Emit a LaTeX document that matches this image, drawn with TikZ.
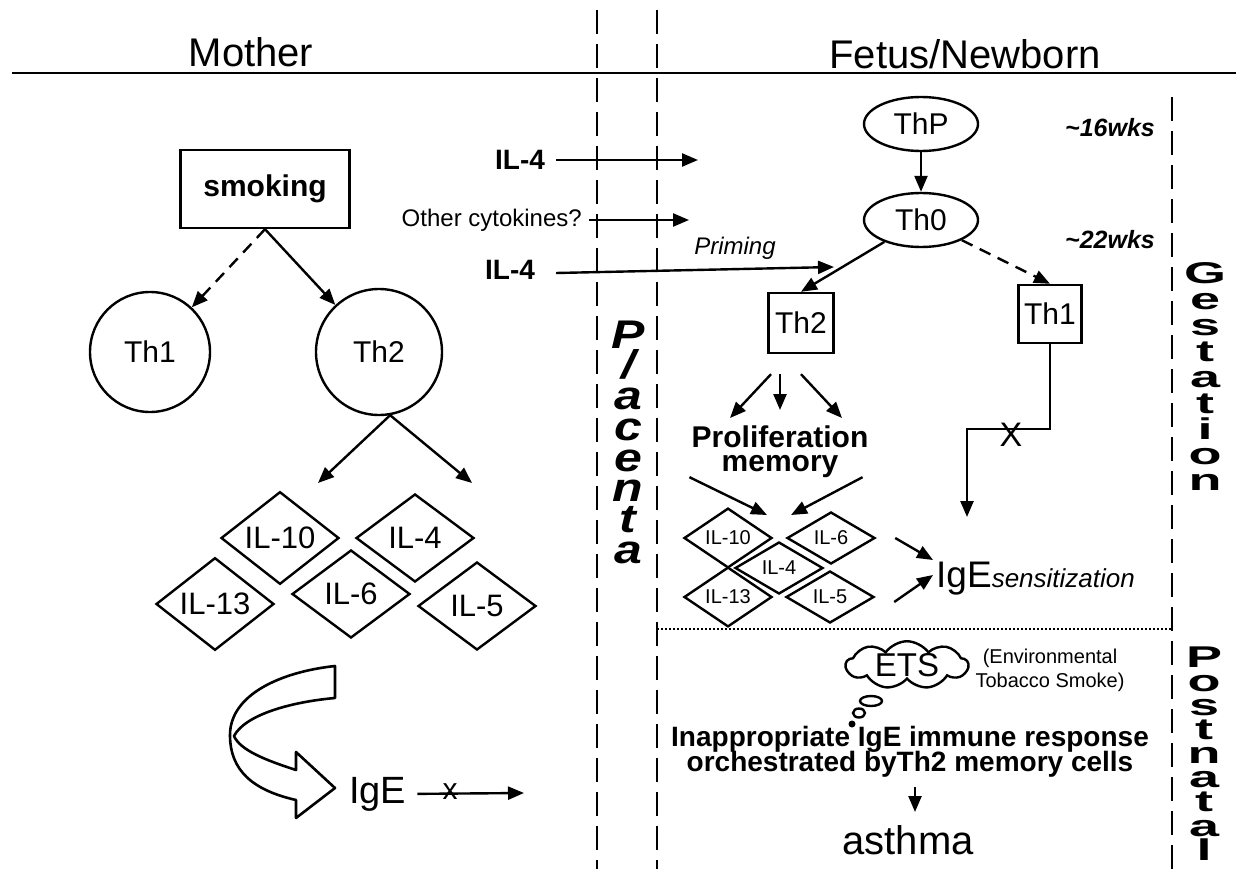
\documentclass[tikz,border=0pt]{standalone}
\usepackage{fontspec}
\setmainfont{Liberation Sans}
\usetikzlibrary{arrows.meta,shapes.geometric,shapes.symbols}
\newcommand\fsz[1]{\fontsize{#1}{#1}\selectfont}
\newcommand\wl[1]{\scalebox{1.8}[1]{#1}}
\newcommand\pl[1]{\scalebox{1.25}[1]{#1}}
\lineskiplimit=-100pt\relax
\begin{document}
\begin{tikzpicture}[x=1pt,y=-1pt,line width=2.4pt,
  arr/.style={-{Triangle[length=16pt,width=13pt]}},
  txt/.style={inner sep=0pt},
  circ/.style={circle,draw,inner sep=0pt,font=\fsz{30}},
  dia/.style={diamond,draw,inner sep=0pt,minimum width=118pt,minimum height=88pt,font=\fsz{31}},
  sdia/.style={diamond,draw,inner sep=0pt,minimum width=88pt,minimum height=52pt,font=\fsz{20}},
  ell/.style={ellipse,draw,inner sep=0pt,minimum width=114pt,minimum height=54pt,font=\fsz{30}},
  boxn/.style={rectangle,draw,inner sep=0pt,font=\fsz{30}},
  vdash/.style={dash pattern=on 24pt off 10pt},
  vstack/.style={anchor=north,inner sep=0pt,align=center}]
\useasboundingbox (0,0) rectangle (1236,869);

% frame lines
\draw (12,73) -- (1236,73);
\draw[vdash] (597,10) -- (597,869);
\draw[vdash] (657,10) -- (657,869);
\draw[vdash] (1172,97) -- (1172,869);
\draw[line width=2pt,dash pattern=on 2pt off 2pt] (657,629) -- (1172,629);

% titles
\node[txt,anchor=base] (mother) at (251,67) {\fsz{40}Mother};
\node[txt,anchor=base] (fetus) at (965,69) {\fsz{40}Fetus/Newborn};

% ---------- Mother side ----------
\node[boxn,minimum width=169pt,minimum height=78pt,font=\fsz{30}\bfseries] (smoking) at (265,189) {smoking};
\node[circ,minimum size=120pt] (th1L) at (150,352) {Th1};
\node[circ,minimum size=126pt] (th2L) at (379,352) {Th2};
\draw[arr,dash pattern=on 12pt off 8pt] (smoking.south) -- (th1L);
\draw[arr] (smoking.south) -- (th2L);
\coordinate (tl) at (318,483);
\coordinate (tr) at (472,483);
\draw[arr] (th2L.-80) -- (tl);
\draw[arr] (th2L.-80) -- (tr);

\node[dia] (d10) at (280,538) {IL-10};
\node[dia] (d4) at (415,538) {IL-4};
\node[dia] (d13) at (215,604) {IL-13};
\node[dia] (d6) at (351,594) {IL-6};
\node[dia] (d5) at (477,606) {IL-5};

% curved block arrow
\draw[line width=2.6pt,line join=round] (335,666) .. controls (280,672) and (230,695) .. (230,735)
  .. controls (230,770) and (252,790) .. (296,800) -- (296,818) -- (335,788) -- (296,752) -- (296,770)
  .. controls (265,760) and (240,750) .. (234,736) .. controls (245,715) and (290,702) .. (335,698) -- cycle;

\node[txt,anchor=base west] (igeL) at (348,803) {\fsz{38}IgE};
\coordinate (igeEnd) at (524,793);
\draw[arr] ([xshift=10pt]igeL.east) -- (igeEnd);
\node[txt] (xL) at (450,792) {\fsz{30}x};

% ---------- Placenta ----------
\node[vstack,font=\fontsize{40}{30.7}\selectfont\bfseries\itshape] (placenta) at (628,319.5)
  {\pl{P}\\\pl{/}\\\pl{a}\\\pl{c}\\\pl{e}\\\pl{n}\\\pl{t}\\\pl{a}};

% cytokines crossing
\node[txt,font=\fsz{28}\bfseries] (il4a) at (520,160) {IL-4};
\coordinate (c1) at (698,160);
\draw[arr] ([xshift=10pt]il4a.east) -- (c1);
\node[txt,anchor=east,font=\fsz{24}] (oth) at (583,220) {Other cytokines?};
\coordinate (c2) at (689,220);
\draw[arr] ([xshift=6pt]oth.east) -- (c2);
\node[txt,font=\fsz{28}\bfseries] (il4b) at (510,270) {IL-4};
\coordinate (c3) at (834,267);
\draw[arr] ([xshift=20pt,yshift=-3pt]il4b.east) -- (c3);
\node[txt,font=\fsz{24}\itshape] (priming) at (735,248) {Priming};

% ---------- Fetus side ----------
\node[ell] (thp) at (921,124) {ThP};
\node[ell] (th0) at (921,220) {Th0};
\draw[arr] (thp) -- (th0);
\node[txt,font=\fsz{25}\bfseries\itshape] (w16) at (1110,128) {\textasciitilde16wks};
\node[txt,font=\fsz{25}\bfseries\itshape] (w22) at (1110,240) {\textasciitilde22wks};

\node[boxn,minimum width=65pt,minimum height=60pt] (th2b) at (801,323) {Th2};
\node[boxn,minimum width=63pt,minimum height=58pt] (th1b) at (1050,314) {Th1};
\draw[arr] (th0) -- (th2b.north);
\draw[arr,dash pattern=on 12pt off 8pt] (th0) -- (th1b.north);

\coordinate (p1) at (730,418);
\coordinate (p2) at (780,410);
\coordinate (p3) at (842,418);
\draw[arr] ([shift={(-30,20)}]th2b.south) -- (p1);
\draw[arr] ([shift={(-21,20)}]th2b.south) -- (p2);
\draw[arr] ([shift={(0,20)}]th2b.south) -- (p3);

\node[txt,align=center,font=\fontsize{30}{24}\selectfont\bfseries] (prolif) at (780,452) {Proliferation\\memory};

\node[sdia] (s10) at (728,538) {IL-10};
\node[sdia] (s6) at (831,538) {IL-6};
\node[sdia] (s4) at (779,568) {IL-4};
\node[sdia] (s13) at (728,597) {IL-13};
\node[sdia] (s5) at (830,597) {IL-5};

\coordinate (q1) at (767,515);
\coordinate (q2) at (791,515);
\draw[arr] ([shift={(-1,-2)}]prolif.south west) -- (q1);
\draw[arr] ([shift={(-7,-2)}]prolif.south east) -- (q2);

\node[txt,anchor=base west] (igeR) at (935,587) {\fsz{37}IgE\fsz{26}\itshape sensitization};
\coordinate (r1) at (933,560);
\coordinate (r2) at (933,575);
\draw[arr] ([shift={(19,0)}]s6.east) -- (r1);
\draw[arr] ([shift={(19,5)}]s5.east) -- (r2);

\coordinate (t1) at (967,517);
\draw[arr] (th1b.south) -- ++(0,85) -| (t1);
\node[txt,font=\fsz{34}] (xR) at (1011,435) {X};

% postnatal
\node[cloud,draw,cloud puffs=9,cloud puff arc=110,aspect=2.8,inner sep=0pt,minimum width=122pt,minimum height=46pt,font=\fsz{33}] (ets) at (907,665) {ETS};
\node[ellipse,draw,inner sep=0pt,minimum width=22pt,minimum height=10pt] (b1) at (871,701) {};
\node[ellipse,draw,inner sep=0pt,minimum width=12pt,minimum height=9pt] (b2) at (859,713) {};
\node[circle,fill,inner sep=0pt,minimum size=7pt] (b3) at (852,724) {};
\node[txt,align=center,font=\fontsize{20}{24}\selectfont] (envt) at (1050,670) {(Environmental\\Tobacco Smoke)};

\node[txt,align=center,font=\fontsize{28}{25}\selectfont\bfseries] (inapp) at (910,752) {Inappropriate IgE immune response\\orchestrated byTh2 memory cells};
\coordinate (a1) at (915,787);
\coordinate (a2) at (915,812);
\draw[arr] (a1) -- (a2);
\node[txt,font=\fsz{40}] (asthma) at (908,840) {asthma};

% side labels
\node[vstack,font=\fontsize{30}{25.9}\selectfont\bfseries] (gest) at (1205,261.5)
  {\wl{G}\\\wl{e}\\\wl{s}\\\wl{t}\\\wl{a}\\\wl{t}\\\wl{i}\\\wl{o}\\\wl{n}};
\node[vstack,font=\fontsize{30}{24.1}\selectfont\bfseries] (postn) at (1204,645.5)
  {\wl{P}\\\wl{o}\\\wl{s}\\\wl{t}\\\wl{n}\\\wl{a}\\\wl{t}\\\wl{a}\\\wl{l}};
\end{tikzpicture}
\end{document}
